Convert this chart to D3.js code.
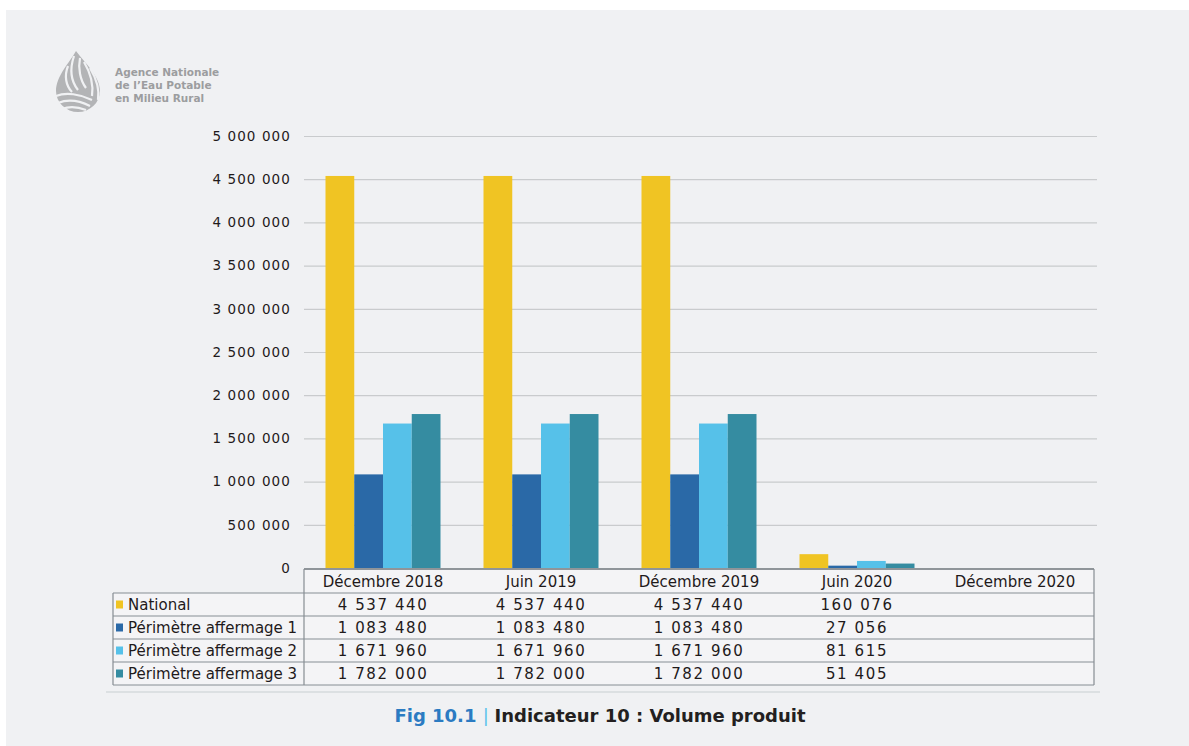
<!DOCTYPE html>
<html>
<head>
<meta charset="utf-8">
<script src="https://cdn.jsdelivr.net/npm/d3@7/dist/d3.min.js"></script>
<style>
  html, body { margin: 0; padding: 0; background: #ffffff; }
  svg { display: block; }
</style>
</head>
<body>
<svg id="chart" width="1189" height="746"></svg>
<script>
// Periods (columns of the data table)
const categories = ["Décembre 2018", "Juin 2019", "Décembre 2019", "Juin 2020", "Décembre 2020"];
// Series names and colours
const seriesNames = ["National", "Périmètre affermage 1", "Périmètre affermage 2", "Périmètre affermage 3"];
const seriesColors = ["#f0c423", "#2a69a7", "#56c1e9", "#358ca1"];
// Volume produit (m3) per series; null = no data yet
const national = [4537440, 4537440, 4537440, 160076, null];
const affermage1 = [1083480, 1083480, 1083480, 27056, null];
const affermage2 = [1671960, 1671960, 1671960, 81615, null];
const affermage3 = [1782000, 1782000, 1782000, 51405, null];
const yTicks = [0, 500000, 1000000, 1500000, 2000000, 2500000, 3000000, 3500000, 4000000, 4500000, 5000000];

const seriesValues = [national, affermage1, affermage2, affermage3];

const svg = d3.select("#chart");
const W = 1189, H = 746;
const FONT = "DejaVu Sans, Verdana, sans-serif";
const INK = "#1f1a1b";

// page panel
svg.append("rect").attr("x", 6).attr("y", 10).attr("width", W - 6).attr("height", H - 10).attr("fill", "#f0f1f3");

// ---- scales ----
const x = d3.scaleBand().domain(categories).range([304, 1094]).padding(0);
const xInner = d3.scaleBand().domain(seriesNames).range([21.5, x.bandwidth() - 21.5]).padding(0);
const y = d3.scaleLinear().domain([0, 5000000]).range([568, 136]);

const loc = d3.formatLocale({ decimal: ",", thousands: " ", grouping: [3], currency: ["", " €"] });
const fmt = loc.format(",d");

// ---- gridlines + y axis ----
const yAxis = d3.axisLeft(y).tickValues(yTicks).tickFormat(fmt).tickSize(-(1097 - 304)).tickPadding(13);
const gy = svg.append("g").attr("transform", "translate(304,0)").call(yAxis);
gy.select(".domain").remove();
gy.selectAll(".tick line").attr("stroke", "#c9cbcd").attr("stroke-width", 1.2)
  .filter(d => d === 0).remove();
gy.selectAll(".tick text")
  .attr("font-family", FONT).attr("font-size", 13.5).attr("letter-spacing", 1.1)
  .attr("fill", INK);

// ---- bars ----
const groups = svg.append("g").selectAll("g").data(categories).join("g")
  .attr("transform", d => `translate(${x(d)},0)`);
groups.selectAll("rect")
  .data((c, ci) => seriesNames.map((s, si) => ({ s, si, v: seriesValues[si][ci] })).filter(d => d.v != null))
  .join("rect")
  .attr("x", d => xInner(d.s))
  .attr("width", xInner.bandwidth())
  .attr("y", d => y(d.v))
  .attr("height", d => y(0) - y(d.v))
  .attr("fill", d => seriesColors[d.si]);

// ---- data table ----
const tbl = svg.append("g");
const rowTop = 569, headH = 24, rowH = 23;
const legendLeft = 113, tableRight = 1094;
const border = "#868d93";

// cells background
tbl.append("rect").attr("x", 304).attr("y", rowTop).attr("width", tableRight - 304).attr("height", headH)
  .attr("fill", "#f4f4f6");
tbl.append("rect").attr("x", legendLeft).attr("y", rowTop + headH).attr("width", tableRight - legendLeft)
  .attr("height", rowH * seriesNames.length).attr("fill", "#f4f4f6");

// horizontal lines
tbl.append("line").attr("x1", 304).attr("x2", tableRight).attr("y1", rowTop).attr("y2", rowTop)
  .attr("stroke", "#6f767b").attr("stroke-width", 1.4);
d3.range(seriesNames.length + 1).forEach(i => {
  const yy = rowTop + headH + i * rowH;
  tbl.append("line").attr("x1", legendLeft).attr("x2", tableRight).attr("y1", yy).attr("y2", yy)
    .attr("stroke", border).attr("stroke-width", 1.2);
});
// vertical lines
tbl.append("line").attr("x1", legendLeft).attr("x2", legendLeft)
  .attr("y1", rowTop + headH).attr("y2", rowTop + headH + rowH * seriesNames.length)
  .attr("stroke", border).attr("stroke-width", 1.2);
[304, tableRight].forEach(xx => {
  tbl.append("line").attr("x1", xx).attr("x2", xx)
    .attr("y1", rowTop).attr("y2", rowTop + headH + rowH * seriesNames.length)
    .attr("stroke", border).attr("stroke-width", 1.2);
});

// header labels
tbl.selectAll("text.head").data(categories).join("text").attr("class", "head")
  .attr("x", d => x(d) + x.bandwidth() / 2).attr("y", rowTop + headH / 2 + 5.5)
  .attr("text-anchor", "middle").attr("font-family", FONT).attr("font-size", 15)
  .attr("fill", INK).text(d => d);

// rows
seriesNames.forEach((s, si) => {
  const cy = rowTop + headH + si * rowH + rowH / 2;
  tbl.append("rect").attr("x", 116).attr("y", cy - 4).attr("width", 7).attr("height", 8).attr("fill", seriesColors[si]);
  tbl.append("text").attr("x", 128).attr("y", cy + 5.5).attr("font-family", FONT).attr("font-size", 15)
    .attr("fill", INK).text(s);
  categories.forEach((c, ci) => {
    const v = seriesValues[si][ci];
    if (v == null) return;
    tbl.append("text").attr("x", x(c) + x.bandwidth() / 2).attr("y", cy + 5.5)
      .attr("text-anchor", "middle").attr("font-family", FONT).attr("font-size", 15)
      .attr("letter-spacing", 1.6)
      .attr("fill", INK).text(fmt(v));
  });
});

// separator under the figure
svg.append("line").attr("x1", 106).attr("x2", 1100).attr("y1", 692).attr("y2", 692)
  .attr("stroke", "#d6dadd").attr("stroke-width", 1.5);

// ---- caption ----
const cap = svg.append("text").attr("x", 600).attr("y", 722).attr("text-anchor", "middle")
  .attr("font-family", FONT).attr("font-size", 18).attr("font-weight", "bold");
cap.append("tspan").attr("fill", "#2b7bc2").text("Fig 10.1 ");
cap.append("tspan").attr("fill", "#5cc3ec").attr("font-weight", "normal").text("| ");
cap.append("tspan").attr("fill", "#231f20").text("Indicateur 10 : Volume produit");

// ---- logo ----
const logo = svg.append("g");
logo.append("path")
  .attr("d", "M76,51 C70,62 56,76 56,91 A22,21 0 0 0 100,91 C100,76 84,62 76,51 Z")
  .attr("fill", "#b3b4b6");
const stripe = "#f0f1f3";
// top fan
["M74,56 C70,68 70,80 78,90", "M80,58 C78,68 80,80 86,88", "M68,66 C64,76 66,86 72,92"].forEach(p =>
  logo.append("path").attr("d", p).attr("fill", "none").attr("stroke", stripe).attr("stroke-width", 2.2));
// right fan
["M84,62 C90,72 94,82 92,96", "M90,68 C96,78 100,88 98,100"].forEach(p =>
  logo.append("path").attr("d", p).attr("fill", "none").attr("stroke", stripe).attr("stroke-width", 2.2));
// bottom bands
["M56,96 C66,92 80,94 92,100", "M58,103 C68,99 80,101 90,106", "M62,109 C70,106 78,107 86,110"].forEach(p =>
  logo.append("path").attr("d", p).attr("fill", "none").attr("stroke", stripe).attr("stroke-width", 2.2));

const logoText = ["Agence Nationale", "de l’Eau Potable", "en Milieu Rural"];
logo.selectAll("text.logo").data(logoText).join("text").attr("class", "logo")
  .attr("x", 115).attr("y", (d, i) => 76 + i * 13)
  .attr("font-family", FONT).attr("font-size", 10.5).attr("font-weight", "bold")
  .attr("fill", "#9c9d9f").text(d => d);
</script>
</body>
</html>
